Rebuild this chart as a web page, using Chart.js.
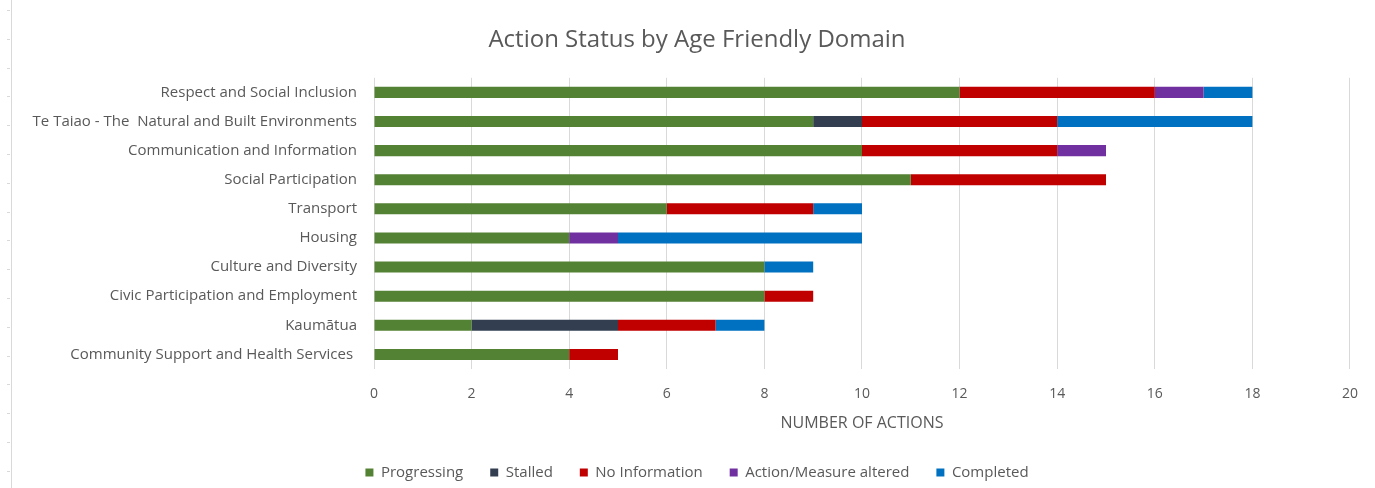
<!DOCTYPE html>
<html>
<head>
<meta charset="utf-8">
<script src="https://cdn.jsdelivr.net/npm/chart.js@4/dist/chart.umd.min.js"></script>
<style>
  html, body { margin: 0; padding: 0; background: #fff; }
  #wrap { position: relative; width: 1375px; height: 488px; }
  /* thin ruler line at the left edge of the screenshot */
  #ruler {
    position: absolute; left: 7px; top: 0; width: 4px; height: 488px;
    border-right: 1px solid #d9d9d9;
    background: repeating-linear-gradient(to bottom, transparent 0, transparent 10px, #d9d9d9 10px, #d9d9d9 11px, transparent 11px, transparent 28.8px);
    background-size: 3px 100%; background-repeat: no-repeat; background-position: 0 0;
  }
  canvas { position: absolute; left: 0; top: 0; }
</style>
</head>
<body>
<div id="wrap">
  <div id="ruler"></div>
  <canvas id="chart" width="1375" height="488"></canvas>
</div>
<script>
// Chart data
const domains = [
  'Respect and Social Inclusion',
  'Te Taiao - The  Natural and Built Environments',
  'Communication and Information',
  'Social Participation',
  'Transport',
  'Housing',
  'Culture and Diversity',
  'Civic Participation and Employment',
  'Kaumātua',
  'Community Support and Health Services '
];
const progressing   = [12, 9, 10, 11, 6, 4, 8, 8, 2, 4];
const stalled       = [0, 1, 0, 0, 0, 0, 0, 0, 3, 0];
const noInformation = [4, 4, 4, 4, 3, 0, 0, 1, 2, 1];
const altered       = [1, 0, 1, 0, 0, 1, 0, 0, 0, 0];
const completed     = [1, 4, 0, 0, 1, 5, 1, 0, 1, 0];

const seriesNames = ['Progressing', 'Stalled', 'No Information', 'Action/Measure altered', 'Completed'];
const seriesColors = ['#548235', '#333f50', '#c00000', '#7030a0', '#0070c0'];

const FONT = 'Open Sans, Noto Sans, sans-serif';
const TEXT = '#595959';

const makeSet = (i, data) => ({
  label: seriesNames[i],
  data: data,
  backgroundColor: seriesColors[i],
  borderWidth: 0,
  barPercentage: 0.38,
  categoryPercentage: 1
});

// let the long category labels run into the left padding instead of being clipped
const labelRoom = {
  id: 'labelRoom',
  afterLayout: (chart) => { chart.scales.y.left = 0; }
};

const ctx = document.getElementById('chart').getContext('2d');
new Chart(ctx, {
  type: 'bar',
  data: {
    labels: domains,
    datasets: [
      makeSet(0, progressing),
      makeSet(1, stalled),
      makeSet(2, noInformation),
      makeSet(3, altered),
      makeSet(4, completed)
    ]
  },
  plugins: [labelRoom],
  options: {
    indexAxis: 'y',
    responsive: false,
    animation: false,
    layout: { padding: { left: 43, right: 24, top: 0, bottom: -2 } },
    scales: {
      x: {
        stacked: true,
        min: 0,
        max: 20,
        ticks: { stepSize: 2, color: TEXT, font: { family: FONT, size: 14 }, padding: 17 },
        grid: { color: '#d9d9d9', lineWidth: 1, drawTicks: false },
        border: { display: false },
        title: {
          display: true,
          text: 'NUMBER OF ACTIONS',
          color: TEXT,
          font: { family: FONT, size: 16 },
          padding: { top: 0, bottom: 5 }
        },
        afterFit: (scale) => { scale.height = 69; }
      },
      y: {
        stacked: true,
        ticks: { color: TEXT, font: { family: FONT, size: 15 }, padding: 17 },
        grid: { display: false, drawTicks: false },
        border: { display: false },
        afterFit: (scale) => { scale.width = 331; }
      }
    },
    plugins: {
      title: {
        display: true,
        text: 'Action Status by Age Friendly Domain',
        color: TEXT,
        font: { family: FONT, size: 24, weight: 'normal' },
        padding: { top: 26, bottom: 23 }
      },
      legend: {
        position: 'bottom',
        labels: {
          color: TEXT,
          font: { family: FONT, size: 15 },
          boxWidth: 8,
          boxHeight: 8,
          padding: 27
        }
      },
      tooltip: { enabled: false }
    }
  }
});
</script>
</body>
</html>
